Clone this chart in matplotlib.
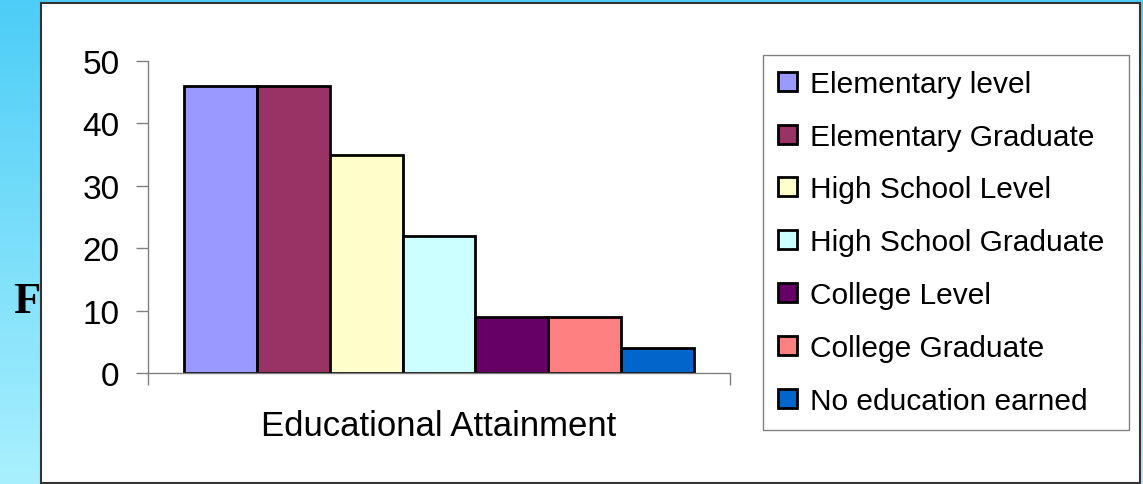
import matplotlib.pyplot as plt
import numpy as np
from matplotlib.colors import LinearSegmentedColormap
from matplotlib.patches import Rectangle

levels = ["Elementary level", "Elementary Graduate", "High School Level",
          "High School Graduate", "College Level", "College Graduate",
          "No education earned"]
counts = [46, 46, 35, 22, 9, 9, 4]
colors = ["#9999FF", "#993366", "#FFFFCC", "#CCFFFF", "#660066", "#FF8080", "#0066CC"]
y_ticks = [0, 10, 20, 30, 40, 50]

plt.rcParams["font.family"] = ["Liberation Sans", "DejaVu Sans"]

W, H = 1143, 485
fig = plt.figure(figsize=(W / 100, H / 100), dpi=100)

# slide-like background with gradient and white chart box
bg = fig.add_axes([0, 0, 1, 1], zorder=-5)
cmap = LinearSegmentedColormap.from_list("bg", ["#4CCDF7", "#A9F0FE"])
grad = np.linspace(0, 1, 256).reshape(-1, 1)
bg.imshow(grad, aspect="auto", cmap=cmap, extent=[0, 1, 0, 1], origin="upper")
bg.set_xlim(0, 1)
bg.set_ylim(0, 1)
bg.axis("off")
bg.text(13 / W, 1 - 313 / H, "F", family="Liberation Serif", weight="bold",
        fontsize=32, va="baseline", ha="left")
bg.add_patch(Rectangle((41 / W, 1 - 484 / H), (1140 - 41) / W, (484 - 4) / H,
                       facecolor="white", edgecolor="#333333", lw=1.5))

ax = fig.add_axes([148 / W, 1 - 374 / H, (730 - 148) / W, (374 - 62) / H])
ax.patch.set_alpha(0)

n = len(counts)
w = 1 / (n + 1)
handles = []
for i, (lab, val, col) in enumerate(zip(levels, counts, colors)):
    b = ax.bar(w / 2 + (i + 0.5) * w, val, width=w, color=col,
               edgecolor="black", linewidth=2, label=lab)
    handles.append(b)

ax.set_xlim(0, 1)
ax.set_ylim(0, 50)
ax.set_yticks(y_ticks)
ax.set_xticks([0, 1])
ax.set_xticklabels([])
ax.tick_params(axis="y", length=8.6, width=1, color="#808080", pad=12, labelsize=24)
ax.tick_params(axis="x", length=8.6, width=1, color="#808080")
for s in ["top", "right"]:
    ax.spines[s].set_visible(False)
for s in ["left", "bottom"]:
    ax.spines[s].set_color("#808080")
    ax.spines[s].set_linewidth(1)
ax.set_xlabel("Educational Attainment", fontsize=25, labelpad=14)

leg = fig.legend(handles, levels, loc="upper left",
                 bbox_to_anchor=(763 / W, 1 - 56 / H, (1129 - 763) / W, 0),
                 mode="expand", borderaxespad=0, fontsize=21.5,
                 handlelength=0.64, handleheight=0.6, handletextpad=0.45,
                 labelspacing=0.83, borderpad=0.5, fancybox=False,
                 edgecolor="#808080", framealpha=1)
leg.get_frame().set_linewidth(1)

fig.savefig("out.png", dpi=100)
plt.close(fig)
